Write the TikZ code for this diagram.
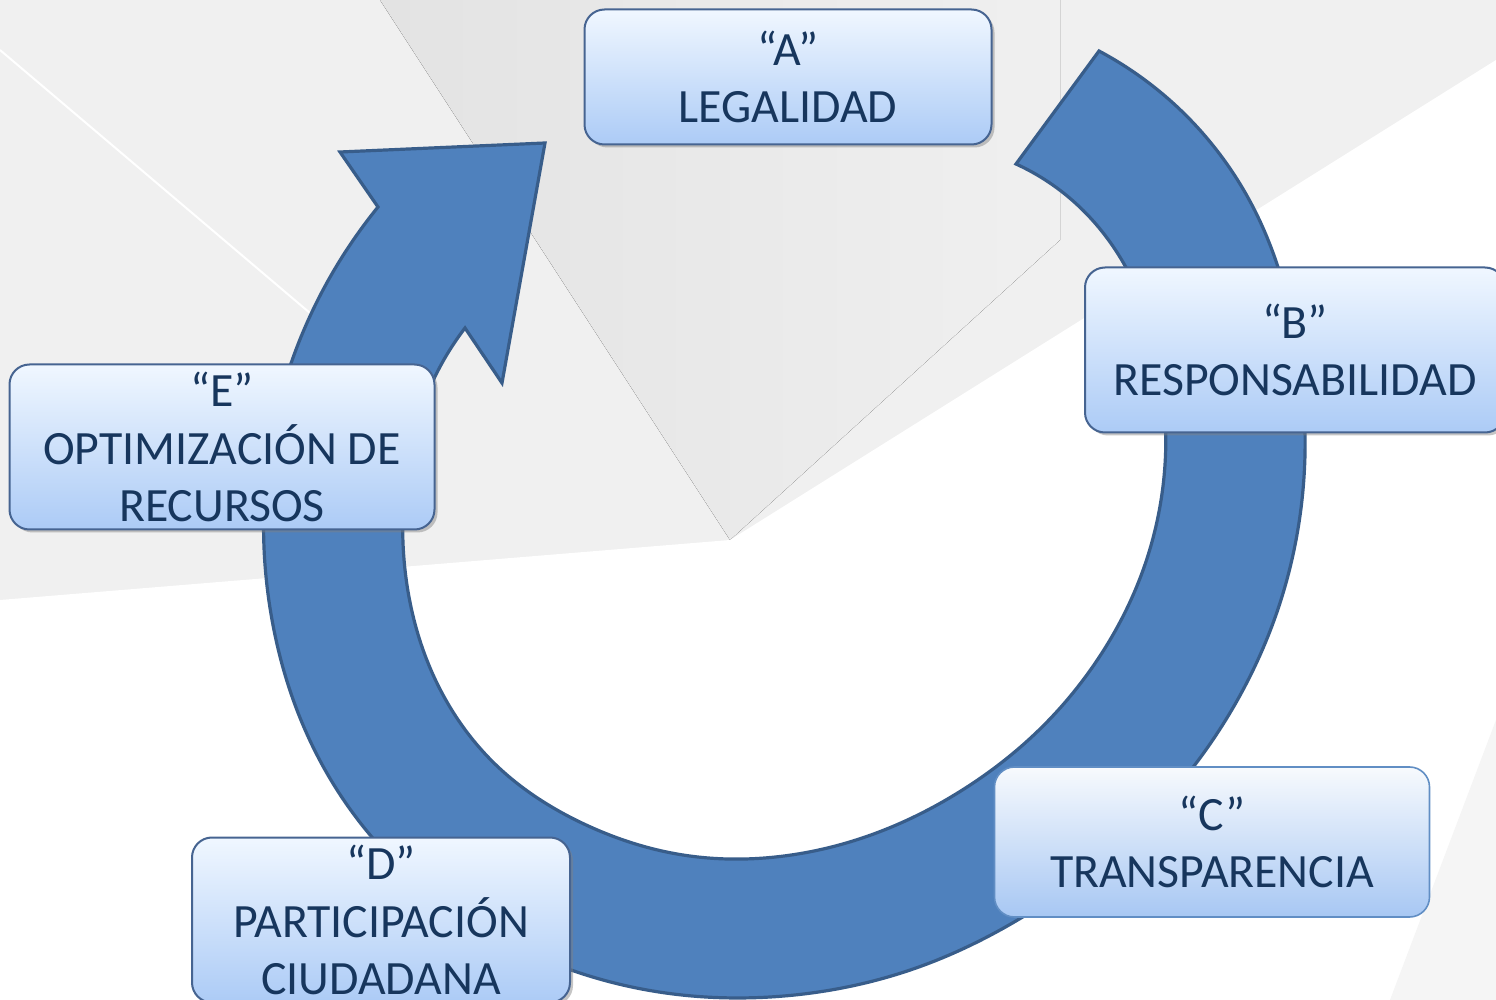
\documentclass[tikz,border=0pt]{standalone}
\usepackage{fontspec}
\setmainfont{Carlito}
\usepackage{tikz}
\usetikzlibrary{shadows, hobby}
\definecolor{ringfill}{RGB}{79, 129, 189}
\definecolor{ringline}{RGB}{56, 93, 138}
\definecolor{boxtop}{RGB}{240, 247, 255}
\definecolor{boxbot}{RGB}{172, 203, 246}
\definecolor{boxline}{RGB}{70, 100, 145}
\definecolor{ink}{RGB}{23, 54, 93}

\begin{document}
\begin{tikzpicture}[
   x=0.5pt, y=-0.5pt,
   ring/.style={fill=ringfill, draw=ringline, line width=1.6pt, line join=miter},
   stepbox/.style={rectangle, rounded corners=10pt, draw=boxline, line width=1pt,
                   top color=boxtop, bottom color=boxbot, text=ink, align=center,
                   font=\fontsize{23.9}{28.8}\selectfont, inner sep=0pt,
                   drop shadow={shadow xshift=1.5pt, shadow yshift=-1.5pt, opacity=0.45}},
   flatbox/.style={rectangle, rounded corners=10pt, draw=ringfill!90!white, line width=0.8pt,
                   top color=boxtop!85!ringfill!20, bottom color=boxbot!95!ringfill, text=ink,
                   align=center, font=\fontsize{23.9}{28.8}\selectfont, inner sep=0pt}
  ]

  % Background
  \useasboundingbox (0,0) rectangle (1496,1000);
  \fill[black!6] (0,0) rectangle (1496,1000);
  \fill[left color=black!11, right color=black!6] (380,0) -- (730,540) -- (1060,240) -- (1060,0) -- cycle;
  \fill[white] (0,600) -- (730,540) -- (1496,60) -- (1496,1000) -- (0,1000) -- cycle;
  \fill[black!4] (1390,1000) -- (1496,720) -- (1496,1000) -- cycle;
  \draw[white, line width=1pt] (0,50) -- (330,330);

  % Circular arrow (outer edge, head, inner edge back to the tail)
  \filldraw[ring]
    (1099,51) to[curve through={(1165,96) .. (1253,207) .. (1296,340) .. (1304,477)
      .. (1278,609) .. (1220,729) .. (1137,830) .. (1034,910) .. (916,968) .. (784,996)
      .. (647,990) .. (514,946) .. (397,864) .. (314,749) .. (271,614) .. (266,477)
      .. (297,347)}] (378,207)
    -- (340,152) -- (545,143) -- (502,383) -- (465,328)
    to[curve through={(432,383) .. (406,477) .. (406,578) .. (435,679) .. (496,765)
      .. (584,824) .. (683,855) .. (784,856) .. (879,832) .. (964,789) .. (1038,731)
      .. (1098,659) .. (1142,573) .. (1164,477) .. (1161,376) .. (1131,277)
      .. (1066,195)}] (1016,164)
    -- cycle;

  % Boxes
  \node (A) at (788,77)  [stepbox, minimum width=203.5pt, minimum height=67.5pt] {“A”\\LEGALIDAD};
  \node (B) at (1295,350) [stepbox, minimum width=210pt, minimum height=82.5pt] {“B”\\RESPONSABILIDAD};
  \node (C) at (1212,842) [flatbox, minimum width=217.5pt, minimum height=75pt] {“C”\\TRANSPARENCIA};
  \node (D) at (381,920) [stepbox, minimum width=189pt, minimum height=82.5pt] {“D”\\PARTICIPACIÓN\\CIUDADANA};
  \node (E) at (222,447) [stepbox, minimum width=212.5pt, minimum height=82.5pt] {“E”\\OPTIMIZACIÓN DE\\RECURSOS};

\end{tikzpicture}
\end{document}
